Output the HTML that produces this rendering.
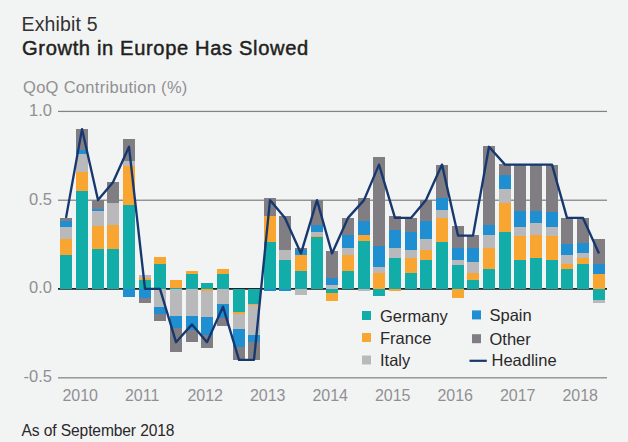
<!DOCTYPE html>
<html><head><meta charset="utf-8"><title>Exhibit 5</title>
<style>
html,body{margin:0;padding:0;}
body{width:628px;height:442px;background:#f2f4f4;position:relative;overflow:hidden;font-family:"Liberation Sans",sans-serif;}
.t{position:absolute;white-space:nowrap;line-height:1;}
.ax{color:#918f93;font-size:16.5px;}
.lg{color:#2b2829;font-size:16.5px;}
</style></head><body>
<svg width="628" height="442" viewBox="0 0 628 442" style="position:absolute;left:0;top:0">
<rect x="58" y="110.80" width="549" height="1.25" fill="#838385"/>
<rect x="58" y="199.60" width="549" height="1.25" fill="#838385"/>
<rect x="58" y="377.20" width="549" height="1.25" fill="#838385"/>
<rect x="58" y="288.1" width="549" height="1.6" fill="#0d0d0d"/>
<g shape-rendering="crispEdges">
<rect x="60" y="218" width="12" height="3" fill="#817e83"/>
<rect x="60" y="221" width="12" height="6" fill="#1f8fd2"/>
<rect x="60" y="227" width="12" height="12" fill="#b9b9bb"/>
<rect x="60" y="239" width="12" height="16" fill="#f9a531"/>
<rect x="60" y="255" width="12" height="34" fill="#12ada8"/>
<rect x="76" y="129" width="12" height="21" fill="#817e83"/>
<rect x="76" y="150" width="12" height="4" fill="#1f8fd2"/>
<rect x="76" y="154" width="12" height="18" fill="#b9b9bb"/>
<rect x="76" y="172" width="12" height="19" fill="#f9a531"/>
<rect x="76" y="191" width="12" height="98" fill="#12ada8"/>
<rect x="92" y="200" width="12" height="9" fill="#817e83"/>
<rect x="92" y="209" width="12" height="2" fill="#1f8fd2"/>
<rect x="92" y="211" width="12" height="15" fill="#b9b9bb"/>
<rect x="92" y="226" width="12" height="23" fill="#f9a531"/>
<rect x="92" y="249" width="12" height="40" fill="#12ada8"/>
<rect x="107" y="182" width="12" height="21" fill="#817e83"/>
<rect x="107" y="203" width="12" height="22" fill="#b9b9bb"/>
<rect x="107" y="225" width="12" height="24" fill="#f9a531"/>
<rect x="107" y="249" width="12" height="40" fill="#12ada8"/>
<rect x="123" y="139" width="12" height="22" fill="#817e83"/>
<rect x="123" y="161" width="12" height="5" fill="#b9b9bb"/>
<rect x="123" y="166" width="12" height="39" fill="#f9a531"/>
<rect x="123" y="205" width="12" height="84" fill="#12ada8"/>
<rect x="123" y="289" width="12" height="8" fill="#1f8fd2"/>
<rect x="139" y="275" width="12" height="3" fill="#b9b9bb"/>
<rect x="139" y="278" width="12" height="2" fill="#f9a531"/>
<rect x="139" y="280" width="12" height="9" fill="#12ada8"/>
<rect x="139" y="289" width="12" height="9" fill="#1f8fd2"/>
<rect x="139" y="298" width="12" height="5" fill="#817e83"/>
<rect x="154" y="257" width="12" height="7" fill="#f9a531"/>
<rect x="154" y="264" width="12" height="25" fill="#12ada8"/>
<rect x="154" y="289" width="12" height="18" fill="#b9b9bb"/>
<rect x="154" y="307" width="12" height="7" fill="#1f8fd2"/>
<rect x="154" y="314" width="12" height="7" fill="#817e83"/>
<rect x="170" y="280" width="12" height="8" fill="#f9a531"/>
<rect x="170" y="288" width="12" height="1" fill="#12ada8"/>
<rect x="170" y="289" width="12" height="27" fill="#b9b9bb"/>
<rect x="170" y="316" width="12" height="12" fill="#1f8fd2"/>
<rect x="170" y="328" width="12" height="24" fill="#817e83"/>
<rect x="186" y="271" width="12" height="3" fill="#f9a531"/>
<rect x="186" y="274" width="12" height="15" fill="#12ada8"/>
<rect x="186" y="289" width="12" height="27" fill="#b9b9bb"/>
<rect x="186" y="316" width="12" height="14" fill="#1f8fd2"/>
<rect x="186" y="330" width="12" height="12" fill="#817e83"/>
<rect x="201" y="283" width="12" height="6" fill="#12ada8"/>
<rect x="201" y="289" width="12" height="2" fill="#f9a531"/>
<rect x="201" y="291" width="12" height="26" fill="#b9b9bb"/>
<rect x="201" y="317" width="12" height="18" fill="#1f8fd2"/>
<rect x="201" y="335" width="12" height="13" fill="#817e83"/>
<rect x="217" y="269" width="12" height="5" fill="#f9a531"/>
<rect x="217" y="274" width="12" height="15" fill="#12ada8"/>
<rect x="217" y="289" width="12" height="15" fill="#b9b9bb"/>
<rect x="217" y="304" width="12" height="14" fill="#1f8fd2"/>
<rect x="217" y="318" width="12" height="8" fill="#817e83"/>
<rect x="233" y="289" width="12" height="23" fill="#12ada8"/>
<rect x="233" y="312" width="12" height="2" fill="#f9a531"/>
<rect x="233" y="314" width="12" height="15" fill="#b9b9bb"/>
<rect x="233" y="329" width="12" height="18" fill="#1f8fd2"/>
<rect x="233" y="347" width="12" height="13" fill="#817e83"/>
<rect x="248" y="289" width="12" height="14.5" fill="#12ada8"/>
<rect x="248" y="303.5" width="12" height="1" fill="#f9a531"/>
<rect x="248" y="304.5" width="12" height="30.5" fill="#b9b9bb"/>
<rect x="248" y="335" width="12" height="7" fill="#1f8fd2"/>
<rect x="248" y="342" width="12" height="18" fill="#817e83"/>
<rect x="264" y="198" width="12" height="18" fill="#817e83"/>
<rect x="264" y="216" width="12" height="26" fill="#f9a531"/>
<rect x="264" y="242" width="12" height="47" fill="#12ada8"/>
<rect x="264" y="289" width="12" height="2" fill="#1f8fd2"/>
<rect x="279" y="216" width="12" height="34" fill="#817e83"/>
<rect x="279" y="250" width="12" height="10" fill="#b9b9bb"/>
<rect x="279" y="260" width="12" height="29" fill="#12ada8"/>
<rect x="279" y="289" width="12" height="2" fill="#1f8fd2"/>
<rect x="295" y="248" width="12" height="2" fill="#817e83"/>
<rect x="295" y="250" width="12" height="5" fill="#1f8fd2"/>
<rect x="295" y="255" width="12" height="16" fill="#f9a531"/>
<rect x="295" y="271" width="12" height="18" fill="#12ada8"/>
<rect x="295" y="289" width="12" height="6" fill="#b9b9bb"/>
<rect x="311" y="200" width="12" height="25" fill="#817e83"/>
<rect x="311" y="225" width="12" height="7" fill="#1f8fd2"/>
<rect x="311" y="232" width="12" height="4" fill="#b9b9bb"/>
<rect x="311" y="236" width="12" height="1" fill="#f9a531"/>
<rect x="311" y="237" width="12" height="52" fill="#12ada8"/>
<rect x="326" y="251" width="12" height="27" fill="#817e83"/>
<rect x="326" y="278" width="12" height="7" fill="#1f8fd2"/>
<rect x="326" y="285" width="12" height="4" fill="#b9b9bb"/>
<rect x="326" y="289" width="12" height="4" fill="#12ada8"/>
<rect x="326" y="293" width="12" height="8" fill="#f9a531"/>
<rect x="342" y="218" width="12" height="17" fill="#817e83"/>
<rect x="342" y="235" width="12" height="13" fill="#1f8fd2"/>
<rect x="342" y="248" width="12" height="7" fill="#b9b9bb"/>
<rect x="342" y="255" width="12" height="16" fill="#f9a531"/>
<rect x="342" y="271" width="12" height="18" fill="#12ada8"/>
<rect x="358" y="198" width="12" height="23" fill="#817e83"/>
<rect x="358" y="221" width="12" height="14" fill="#1f8fd2"/>
<rect x="358" y="235" width="12" height="6" fill="#f9a531"/>
<rect x="358" y="241" width="12" height="48" fill="#12ada8"/>
<rect x="358" y="289" width="12" height="1.5" fill="#b9b9bb"/>
<rect x="373" y="157" width="12" height="89" fill="#817e83"/>
<rect x="373" y="246" width="12" height="21" fill="#1f8fd2"/>
<rect x="373" y="267" width="12" height="6" fill="#b9b9bb"/>
<rect x="373" y="273" width="12" height="16" fill="#f9a531"/>
<rect x="373" y="289" width="12" height="7" fill="#12ada8"/>
<rect x="389" y="216" width="12" height="14" fill="#817e83"/>
<rect x="389" y="230" width="12" height="18" fill="#1f8fd2"/>
<rect x="389" y="248" width="12" height="10" fill="#b9b9bb"/>
<rect x="389" y="258" width="12" height="31" fill="#12ada8"/>
<rect x="389" y="289" width="12" height="1.5" fill="#f9a531"/>
<rect x="405" y="218" width="12" height="14" fill="#817e83"/>
<rect x="405" y="232" width="12" height="18" fill="#1f8fd2"/>
<rect x="405" y="250" width="12" height="8" fill="#b9b9bb"/>
<rect x="405" y="258" width="12" height="15" fill="#f9a531"/>
<rect x="405" y="273" width="12" height="16" fill="#12ada8"/>
<rect x="420" y="200" width="12" height="21" fill="#817e83"/>
<rect x="420" y="221" width="12" height="18" fill="#1f8fd2"/>
<rect x="420" y="239" width="12" height="11" fill="#b9b9bb"/>
<rect x="420" y="250" width="12" height="10" fill="#f9a531"/>
<rect x="420" y="260" width="12" height="29" fill="#12ada8"/>
<rect x="436" y="165" width="12" height="33" fill="#817e83"/>
<rect x="436" y="198" width="12" height="12" fill="#1f8fd2"/>
<rect x="436" y="210" width="12" height="8" fill="#b9b9bb"/>
<rect x="436" y="218" width="12" height="24" fill="#f9a531"/>
<rect x="436" y="242" width="12" height="47" fill="#12ada8"/>
<rect x="452" y="226" width="12" height="22" fill="#817e83"/>
<rect x="452" y="248" width="12" height="12" fill="#1f8fd2"/>
<rect x="452" y="260" width="12" height="5" fill="#b9b9bb"/>
<rect x="452" y="265" width="12" height="24" fill="#12ada8"/>
<rect x="452" y="289" width="12" height="9" fill="#f9a531"/>
<rect x="467" y="235" width="12" height="13" fill="#817e83"/>
<rect x="467" y="248" width="12" height="14" fill="#1f8fd2"/>
<rect x="467" y="262" width="12" height="11" fill="#b9b9bb"/>
<rect x="467" y="273" width="12" height="7" fill="#f9a531"/>
<rect x="467" y="280" width="12" height="9" fill="#12ada8"/>
<rect x="483" y="146" width="12" height="79" fill="#817e83"/>
<rect x="483" y="225" width="12" height="10" fill="#1f8fd2"/>
<rect x="483" y="235" width="12" height="13" fill="#b9b9bb"/>
<rect x="483" y="248" width="12" height="21" fill="#f9a531"/>
<rect x="483" y="269" width="12" height="20" fill="#12ada8"/>
<rect x="499" y="164" width="12" height="11" fill="#817e83"/>
<rect x="499" y="175" width="12" height="14" fill="#1f8fd2"/>
<rect x="499" y="189" width="12" height="14" fill="#b9b9bb"/>
<rect x="499" y="203" width="12" height="29" fill="#f9a531"/>
<rect x="499" y="232" width="12" height="57" fill="#12ada8"/>
<rect x="514" y="165" width="12" height="46" fill="#817e83"/>
<rect x="514" y="211" width="12" height="16" fill="#1f8fd2"/>
<rect x="514" y="227" width="12" height="9" fill="#b9b9bb"/>
<rect x="514" y="236" width="12" height="24" fill="#f9a531"/>
<rect x="514" y="260" width="12" height="29" fill="#12ada8"/>
<rect x="530" y="165" width="12" height="46" fill="#817e83"/>
<rect x="530" y="211" width="12" height="12" fill="#1f8fd2"/>
<rect x="530" y="223" width="12" height="12" fill="#b9b9bb"/>
<rect x="530" y="235" width="12" height="23" fill="#f9a531"/>
<rect x="530" y="258" width="12" height="31" fill="#12ada8"/>
<rect x="546" y="165" width="12" height="47" fill="#817e83"/>
<rect x="546" y="212" width="12" height="15" fill="#1f8fd2"/>
<rect x="546" y="227" width="12" height="9" fill="#b9b9bb"/>
<rect x="546" y="236" width="12" height="24" fill="#f9a531"/>
<rect x="546" y="260" width="12" height="29" fill="#12ada8"/>
<rect x="561" y="218" width="12" height="26" fill="#817e83"/>
<rect x="561" y="244" width="12" height="11" fill="#1f8fd2"/>
<rect x="561" y="255" width="12" height="9" fill="#b9b9bb"/>
<rect x="561" y="264" width="12" height="5" fill="#f9a531"/>
<rect x="561" y="269" width="12" height="20" fill="#12ada8"/>
<rect x="577" y="218" width="12" height="25" fill="#817e83"/>
<rect x="577" y="243" width="12" height="10" fill="#1f8fd2"/>
<rect x="577" y="253" width="12" height="5" fill="#b9b9bb"/>
<rect x="577" y="258" width="12" height="6" fill="#f9a531"/>
<rect x="577" y="264" width="12" height="25" fill="#12ada8"/>
<rect x="593" y="239" width="12" height="25" fill="#817e83"/>
<rect x="593" y="264" width="12" height="10" fill="#1f8fd2"/>
<rect x="593" y="274" width="12" height="15" fill="#f9a531"/>
<rect x="593" y="289" width="12" height="11" fill="#12ada8"/>
<rect x="593" y="300" width="12" height="3" fill="#b9b9bb"/>
</g>
<polyline points="66,217.9 82,129.1 98,200.1 113,182.3 129,146.8 145,288.9 160,288.9 176,342.2 192,324.4 207,342.2 223,306.7 239,359.9 254,359.9 270,200.1 285,217.9 301,253.4 317,200.1 332,253.4 348,217.9 364,200.1 379,164.6 395,217.9 411,217.9 426,200.1 442,164.6 458,235.6 473,235.6 489,146.8 505,164.6 520,164.6 536,164.6 552,164.6 567,217.9 583,217.9 599,253.4" fill="none" stroke="#17376f" stroke-width="2.35" stroke-linejoin="round" stroke-linecap="butt"/>
<rect x="362" y="311" width="9" height="9" fill="#12ada8"/>
<rect x="362" y="333" width="9" height="9" fill="#f9a531"/>
<rect x="362" y="355.5" width="9" height="9" fill="#b9b9bb"/>
<rect x="472" y="310.4" width="9" height="9" fill="#1f8fd2"/>
<rect x="472" y="334.2" width="9" height="9" fill="#817e83"/>
<rect x="469.5" y="359.7" width="17.3" height="2.2" fill="#17376f"/>
</svg>
<div class="t" id="ex" style="left:21.5px;top:14.7px;font-size:19.5px;letter-spacing:0.15px;color:#333132;">Exhibit 5</div>
<div class="t" id="ti" style="left:22px;top:39px;font-size:19.5px;letter-spacing:0.62px;-webkit-text-stroke:0.45px #231f20;color:#231f20;transform:scaleX(1.032);transform-origin:0 0;">Growth in Europe Has Slowed</div>
<div class="t ax" id="yl" style="left:23px;top:78.6px;font-size:16.5px;letter-spacing:0.3px;">QoQ Contribution (%)</div>
<div class="t ax" style="right:576px;top:102px;">1.0</div>
<div class="t ax" style="right:576px;top:191px;">0.5</div>
<div class="t ax" style="right:576px;top:279px;">0.0</div>
<div class="t ax" style="right:576px;top:368px;">-0.5</div>
<div class="t ax" style="left:62.4px;top:387.5px;font-size:16px;">2010</div>
<div class="t ax" style="left:124.9px;top:387.5px;font-size:16px;">2011</div>
<div class="t ax" style="left:187.4px;top:387.5px;font-size:16px;">2012</div>
<div class="t ax" style="left:249.9px;top:387.5px;font-size:16px;">2013</div>
<div class="t ax" style="left:312.4px;top:387.5px;font-size:16px;">2014</div>
<div class="t ax" style="left:374.9px;top:387.5px;font-size:16px;">2015</div>
<div class="t ax" style="left:437.4px;top:387.5px;font-size:16px;">2016</div>
<div class="t ax" style="left:499.9px;top:387.5px;font-size:16px;">2017</div>
<div class="t ax" style="left:562.4px;top:387.5px;font-size:16px;">2018</div>
<div class="t lg" style="left:380px;top:307.5px;">Germany</div>
<div class="t lg" style="left:380px;top:330px;">France</div>
<div class="t lg" style="left:380px;top:352px;">Italy</div>
<div class="t lg" style="left:489.5px;top:306.5px;">Spain</div>
<div class="t lg" style="left:489.5px;top:331px;">Other</div>
<div class="t lg" style="left:491.5px;top:352px;">Headline</div>
<div class="t" id="fn" style="left:21.6px;top:422.5px;font-size:15.6px;letter-spacing:-0.12px;color:#2b2829;">As of September 2018</div>
</body></html>
